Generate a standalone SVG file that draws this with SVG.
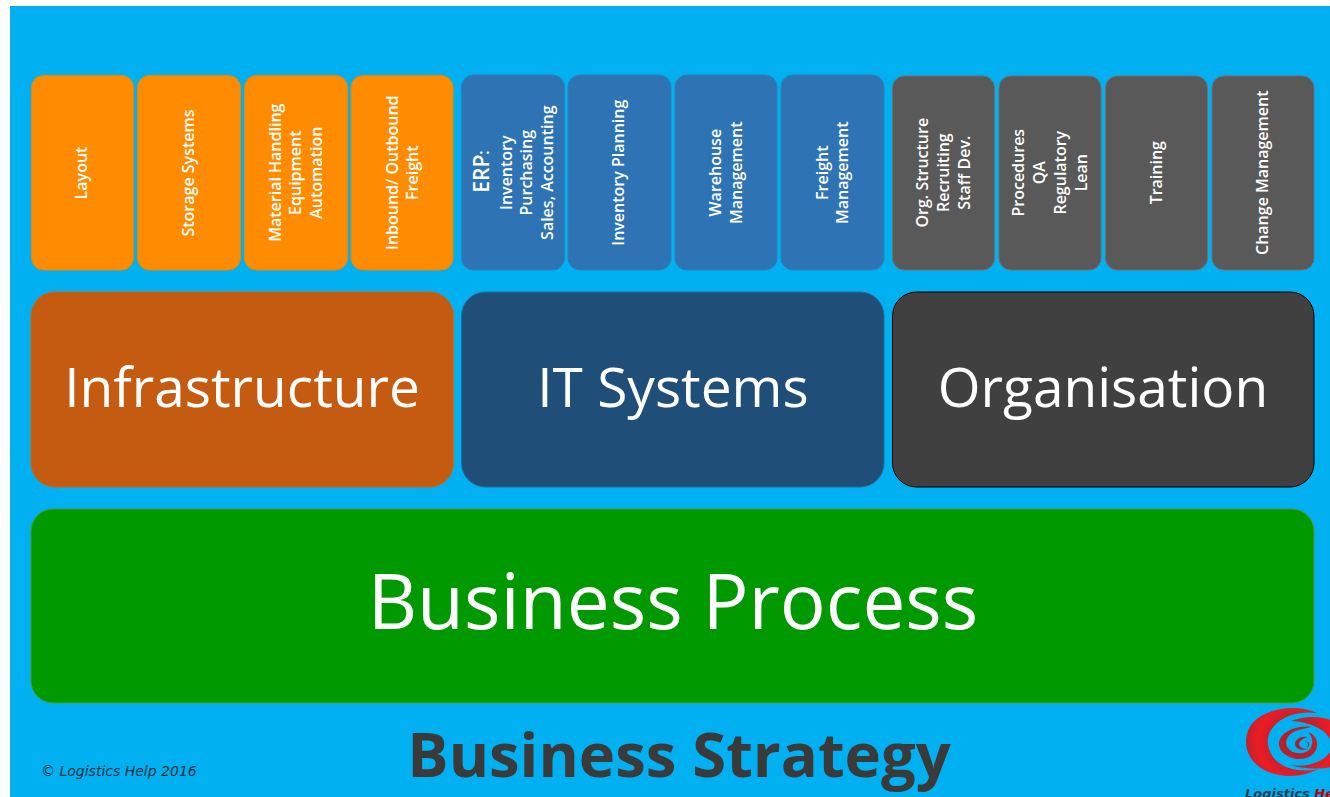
<svg xmlns="http://www.w3.org/2000/svg" width="1330" height="797" viewBox="0 0 1330 797">
<style>
.s{stroke-width:1}
.o{fill:#ff8b00;stroke:#e08a10}
.b{fill:#2e74b5;stroke:#2b80b8}
.g{fill:#595959;stroke:#6e6e6e}
.t{font-family:"Open Sans","Noto Sans",sans-serif;font-weight:600;font-size:16px;fill:#fff;text-anchor:middle}
.h{font-family:"Open Sans","Noto Sans",sans-serif;font-size:55px;fill:#fff;text-anchor:middle}
</style>
<defs>
<radialGradient id="red" gradientUnits="userSpaceOnUse" cx="1296" cy="742" r="54">
<stop offset="0" stop-color="#a8202c"/><stop offset="0.45" stop-color="#c41f2c"/><stop offset="0.7" stop-color="#ed1c24"/><stop offset="1" stop-color="#b5222e"/>
</radialGradient>
</defs>
<rect width="1330" height="797" fill="#fff"/>
<rect x="10" y="6" width="1320" height="791" fill="#00b0f0"/>
<g id="layout"><rect class="s o" x="31.500" y="75.500" width="102" height="194.500" rx="12"/><text class="t" transform="translate(87 173) rotate(-90)">Layout</text></g>
<g id="storage"><rect class="s o" x="137.500" y="75.500" width="103" height="194.500" rx="12"/><text class="t" transform="translate(194 173) rotate(-90)">Storage Systems</text></g>
<g id="material"><rect class="s o" x="244.500" y="75.500" width="103" height="194.500" rx="12"/><text class="t" transform="translate(280.500 172.700) rotate(-90)">Material Handling</text><text class="t" transform="translate(301 172.700) rotate(-90)">Equipment</text><text class="t" transform="translate(322 172.700) rotate(-90)">Automation</text></g>
<g id="freight-in"><rect class="s o" x="351" y="75.500" width="102" height="194.500" rx="12"/><text class="t" transform="translate(398 172.700) rotate(-90)">Inbound/ Outbound</text><text class="t" transform="translate(418 172.700) rotate(-90)">Freight</text></g>
<g id="erp"><rect class="s b" x="461.500" y="75" width="103" height="195" rx="12"/><text class="t" style="font-size:21px" transform="translate(489 171.500) rotate(-90)">ERP<tspan style="font-size:16px">:</tspan></text><text class="t" transform="translate(511.500 172.700) rotate(-90)">Inventory</text><text class="t" transform="translate(532 172.700) rotate(-90)">Purchasing</text><text class="t" transform="translate(553 172.700) rotate(-90)">Sales, Accounting</text></g>
<g id="inventory"><rect class="s b" x="568" y="75" width="103" height="195" rx="12"/><text class="t" transform="translate(624 172.700) rotate(-90)">Inventory Planning</text></g>
<g id="warehouse"><rect class="s b" x="675" y="75" width="102" height="195" rx="12"/><text class="t" transform="translate(721 172.700) rotate(-90)">Warehouse</text><text class="t" transform="translate(742 172.700) rotate(-90)">Management</text></g>
<g id="freight"><rect class="s b" x="781" y="75" width="103" height="195" rx="12"/><text class="t" transform="translate(828 172.700) rotate(-90)">Freight</text><text class="t" transform="translate(848 172.700) rotate(-90)">Management</text></g>
<g id="org"><rect class="s g" x="892.500" y="76" width="102" height="194" rx="12"/><text class="t" transform="translate(928 172.700) rotate(-90)">Org. Structure</text><text class="t" transform="translate(948.500 172.700) rotate(-90)">Recruiting</text><text class="t" transform="translate(969.500 172.700) rotate(-90)">Staff Dev.</text></g>
<g id="procedures"><rect class="s g" x="999" y="76" width="102" height="194" rx="12"/><text class="t" transform="translate(1024 172.700) rotate(-90)">Procedures</text><text class="t" transform="translate(1045 172.700) rotate(-90)">QA</text><text class="t" transform="translate(1065.500 172.700) rotate(-90)">Regulatory</text><text class="t" transform="translate(1086.500 172.700) rotate(-90)">Lean</text></g>
<g id="training"><rect class="s g" x="1105.500" y="76" width="102" height="194" rx="12"/><text class="t" transform="translate(1162 172.700) rotate(-90)">Training</text></g>
<g id="change"><rect class="s g" x="1212" y="76" width="102" height="194" rx="12"/><text class="t" transform="translate(1268 172.700) rotate(-90)">Change Management</text></g>
<g id="infrastructure"><rect x="31" y="292" width="422.500" height="195" rx="24" fill="#c55a11" stroke="#c8661a"/><text class="h" x="242" y="407">Infrastructure</text></g>
<g id="it-systems"><rect x="461.500" y="292" width="422.500" height="195" rx="24" fill="#1f4e79" stroke="#2a6a94"/><text class="h" x="673" y="407">IT Systems</text></g>
<g id="organisation"><rect x="892.500" y="292" width="421.500" height="195" rx="24" fill="#404040" stroke="#000"/><text class="h" x="1103" y="407">Organisation</text></g>
<g id="business-process"><rect x="31" y="509" width="1283" height="194" rx="22" fill="#009900" stroke="#4f9a3a"/><text class="h" style="font-size:76.500px" x="673" y="629">Business Process</text></g>
<g id="strategy"><text x="679" y="777" text-anchor="middle" font-family="'Open Sans','Noto Sans',sans-serif" font-weight="700" font-size="61.500px" fill="#3a3a3a">Business Strategy</text></g>
<g id="copyright"><text x="41" y="776" font-family="'DejaVu Sans',sans-serif" font-style="italic" font-size="14px" fill="#12303f">© Logistics Help 2016</text></g>
<g id="logo" fill="url(#red)">
<path d="M1317 713C1295 703 1262 709 1251 725C1243 737 1245 752 1254 762C1268 778 1298 780 1318 769C1300 773 1282 769 1273 757C1265 745 1266 733 1277 723C1287 714 1303 711 1317 713Z"/>
<path d="M1291 721C1305 716 1322 715 1335 722L1335 766C1320 770 1303 769 1290 765C1310 768 1325 760 1330 752C1334 744 1330 735 1320 729C1312 724 1300 721 1291 721Z"/>
<path d="M1311 727C1298 725 1284 731 1280 739C1276 748 1284 757 1297 759C1308 760 1316 754 1317 746C1318 739 1314 734 1308 732C1313 737 1314 745 1309 750C1303 755 1292 754 1288 748C1283 741 1289 732 1299 730C1303 729 1307 728 1311 727Z"/>
<path d="M1307 737C1300 736 1295 740 1295 744C1295 749 1302 751 1308 749C1303 749 1299 747 1299 744C1299 741 1303 739 1307 737Z"/>
<path d="M1305 741C1309 743 1309 746 1306 748C1310 747 1311 742 1305 741Z"/>
</g>
<text x="1245" y="798" font-family="'DejaVu Sans',sans-serif" font-style="italic" font-weight="700" font-size="13px" fill="#333f50">Logistics <tspan fill="#c00000">Help</tspan></text>
</svg>
